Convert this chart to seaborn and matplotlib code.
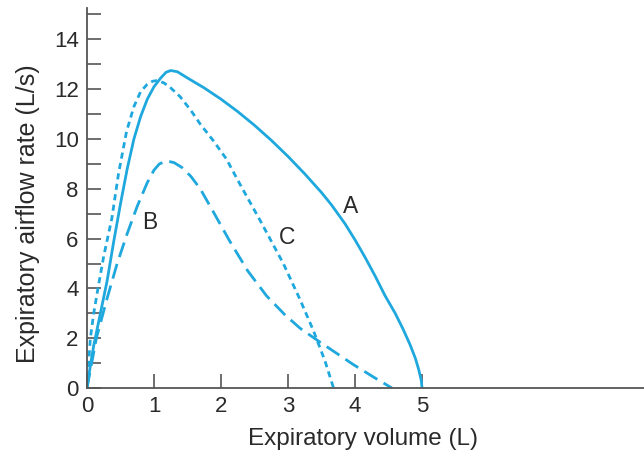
import matplotlib
matplotlib.use("Agg")
import matplotlib.pyplot as plt
import seaborn as sns
import pandas as pd

# Curve A (solid)
a_vol = [0, 0.05, 0.1, 0.2, 0.3, 0.4, 0.5, 0.6, 0.7, 0.8, 0.9, 1.0, 1.1, 1.18, 1.25, 1.35,
         1.5, 1.75, 2.0, 2.25, 2.5, 2.75, 3.0, 3.25, 3.5, 3.65, 3.85, 4.0, 4.15, 4.3, 4.45,
         4.6, 4.72, 4.82, 4.9, 4.95, 4.99, 5.0]
a_flow = [0, 0.9, 1.7, 3.0, 4.3, 5.9, 7.4, 8.8, 10.0, 10.9, 11.6, 12.1, 12.45, 12.68, 12.75, 12.7,
          12.45, 12.05, 11.6, 11.1, 10.55, 9.95, 9.3, 8.6, 7.85, 7.35, 6.6, 5.95, 5.25, 4.5, 3.7,
          3.0, 2.35, 1.75, 1.2, 0.75, 0.3, 0]

# Curve B (long dashes)
b_vol = [0, 0.14, 0.3, 0.45, 0.6, 0.75, 0.9, 1.0, 1.08, 1.19, 1.3, 1.42, 1.55, 1.69, 1.88, 2.13,
         2.4, 2.68, 2.95, 3.18, 3.5, 3.75, 3.97, 4.3, 4.55]
b_flow = [0, 2.0, 3.6, 5.0, 6.2, 7.3, 8.25, 8.75, 9.0, 9.12, 9.05, 8.85, 8.5, 8.0, 7.1, 5.9,
          4.7, 3.7, 2.95, 2.4, 1.8, 1.35, 0.95, 0.4, 0]

# Curve C (short dashes)
c_vol = [0, 0.05, 0.1, 0.17, 0.25, 0.37, 0.47, 0.59, 0.7, 0.8, 0.9, 0.98, 1.05, 1.15, 1.25,
         1.39, 1.55, 1.69, 1.88, 2.08, 2.3, 2.58, 2.75, 2.93, 3.18, 3.38, 3.55, 3.68]
c_flow = [0, 2.0, 3.0, 4.1, 5.3, 6.8, 8.6, 10.3, 11.3, 11.9, 12.2, 12.32, 12.35, 12.25, 12.05,
          11.7, 11.15, 10.6, 9.95, 9.2, 8.1, 6.75, 5.9, 5.0, 3.55, 2.3, 1.1, 0]

curve_labels = ["A", "B", "C"]
label_x = [3.93, 0.93, 2.99]
label_y = [7.3, 6.65, 6.04]

x_ticks = [0, 1, 2, 3, 4, 5]
y_ticks = [0, 2, 4, 6, 8, 10, 12, 14]
y_minor = [1, 3, 5, 7, 9, 11, 13, 15]

sns.set_style("white")
plt.rcParams["font.family"] = ["Liberation Sans", "DejaVu Sans"]

color = "#1ea8dd"
gray = "#555555"
txt = "#2a2a2a"

fig = plt.figure(figsize=(6.44, 4.61), dpi=100)
ax = fig.add_axes([87 / 644, (461 - 388) / 461, (644 - 87) / 644, (388 - 8) / 461])

dfa = pd.DataFrame({"vol": a_vol, "flow": a_flow})
dfb = pd.DataFrame({"vol": b_vol, "flow": b_flow})
dfc = pd.DataFrame({"vol": c_vol, "flow": c_flow})

sns.lineplot(data=dfa, x="vol", y="flow", ax=ax, color=color, lw=2.0, sort=False)
sns.lineplot(data=dfb, x="vol", y="flow", ax=ax, color=color, lw=2.0, sort=False)
ax.lines[-1].set_dashes((5.5, 2.6))
sns.lineplot(data=dfc, x="vol", y="flow", ax=ax, color=color, lw=2.0, sort=False)
ax.lines[-1].set_dashes((2.2, 1.6))
for ln in ax.lines:
    ln.set_solid_joinstyle("round")
    ln.set_dash_joinstyle("round")

for lab, lx, ly in zip(curve_labels, label_x, label_y):
    ax.text(lx, ly, lab, fontsize=16.5, color=txt, ha="center", va="center")

ax.set_xlim(0, (644 - 87) / 67)
ax.set_ylim(0, (388 - 8) / 24.9)
ax.set_xticks(x_ticks)
ax.set_yticks(y_ticks)
ax.set_yticks(y_minor, minor=True)
ax.tick_params(axis="both", which="both", direction="in", length=10, width=1.2,
               color=gray, labelsize=16, labelcolor=txt, pad=6,
               bottom=True, left=True, top=False, right=False)

ax.set_xlabel("Expiratory volume (L)", fontsize=17.5, color=txt)
ax.set_ylabel("Expiratory airflow rate (L/s)", fontsize=18, color=txt)
ax.xaxis.set_label_coords(0.4955, -0.106)
ax.yaxis.set_label_coords(-0.085, 0.46)

for s in ["top", "right"]:
    ax.spines[s].set_visible(False)
for s in ["left", "bottom"]:
    ax.spines[s].set_color(gray)
    ax.spines[s].set_linewidth(1.3)

ax.grid(False)
fig.savefig("out.png", dpi=100)
